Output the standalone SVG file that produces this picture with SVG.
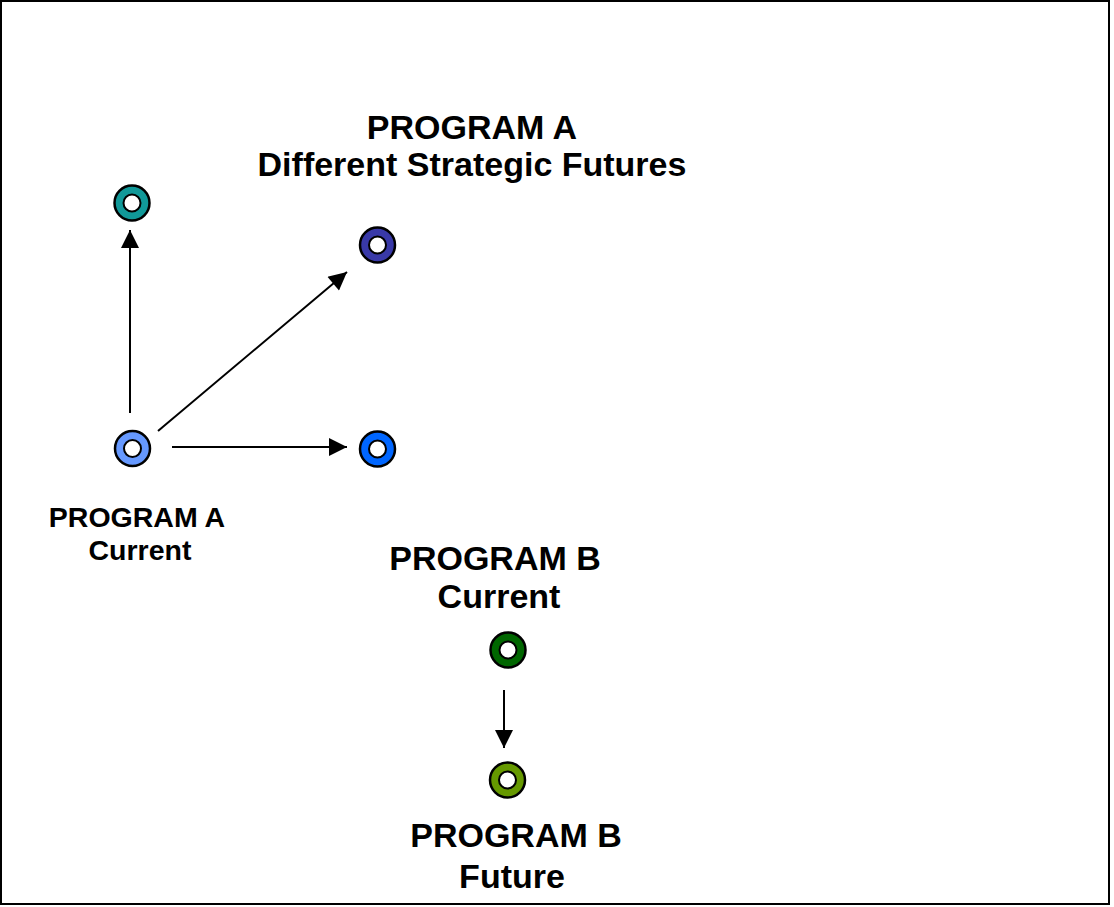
<svg xmlns="http://www.w3.org/2000/svg" width="1114" height="907" viewBox="0 0 1114 907">
<style>
.ring{stroke:#000;stroke-width:2.5}
.hole{fill:#fff;stroke:#000;stroke-width:2}
.lbl{font-family:"Liberation Sans",Arial,sans-serif;font-weight:bold;text-anchor:middle;fill:#000}
.big{font-size:34px}
.small{font-size:28.5px}
.con{stroke:#000;stroke-width:2;fill:none;marker-end:url(#ah)}
</style>
<defs>
<marker id="ah" viewBox="0 0 10 10" refX="10" refY="5" markerWidth="20" markerHeight="18" markerUnits="userSpaceOnUse" orient="auto">
<path d="M0,0 L10,5 L0,10 Z" fill="#000"/>
</marker>
</defs>
<rect x="1" y="1" width="1108" height="903" fill="#fff" stroke="#000" stroke-width="2"/>
<g id="connectors">
<line class="con" x1="130" y1="413" x2="130" y2="230"/>
<line class="con" x1="158" y1="431" x2="347" y2="272"/>
<line class="con" x1="172" y1="447" x2="347" y2="447"/>
<line class="con" x1="504" y1="690" x2="504" y2="748"/>
</g>
<g id="title">
<text class="lbl big" x="472" y="139">PROGRAM A</text>
<text class="lbl big" x="472" y="176">Different Strategic Futures</text>
</g>
<g id="future1">
<circle class="ring" cx="132" cy="203" r="17.5" fill="#119999"/>
<circle class="hole" cx="132" cy="203" r="8.5"/>
</g>
<g id="future2">
<circle class="ring" cx="377.5" cy="245" r="17.5" fill="#3939A8"/>
<circle class="hole" cx="377.5" cy="245" r="8.5"/>
</g>
<g id="programACurrent">
<circle class="ring" cx="132.5" cy="448.5" r="17.5" fill="#6699FF"/>
<circle class="hole" cx="132.5" cy="448.5" r="8.5"/>
<text class="lbl small" x="137" y="527">PROGRAM A</text>
<text class="lbl small" x="140" y="560">Current</text>
</g>
<g id="future3">
<circle class="ring" cx="377.5" cy="449" r="17.5" fill="#0066FF"/>
<circle class="hole" cx="377.5" cy="449" r="8.5"/>
</g>
<g id="programBCurrent">
<text class="lbl big" x="495" y="570">PROGRAM B</text>
<text class="lbl big" x="499" y="608">Current</text>
<circle class="ring" cx="508" cy="650" r="17.5" fill="#006600"/>
<circle class="hole" cx="508" cy="650" r="8.5"/>
</g>
<g id="programBFuture">
<circle class="ring" cx="507.5" cy="780" r="17.5" fill="#669900"/>
<circle class="hole" cx="507.5" cy="780" r="8.5"/>
<text class="lbl big" x="516" y="847">PROGRAM B</text>
<text class="lbl big" x="512" y="888">Future</text>
</g>
</svg>
